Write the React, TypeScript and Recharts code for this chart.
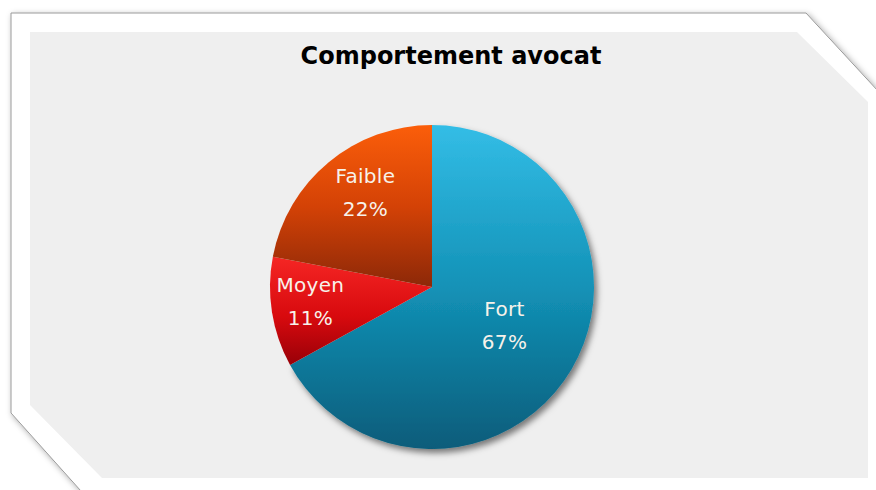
import React from "react";
import { PieChart, Pie, Cell } from "recharts";

const categories = ["Fort", "Moyen", "Faible"];
const values = [67, 11, 22];
const chartTitle = "Comportement avocat";

const data = categories.map((name, i) => ({ name, value: values[i] }));

const GRADS = ["gFort", "gMoyen", "gFaible"];
const LABEL_R = [0.52, 0.76, 0.69];
const LABEL_DA = [0, 0, -3];
const RAD = Math.PI / 180;

const renderLabel = (props: any) => {
  const { cx, cy, midAngle, outerRadius, index, name, percent } = props;
  const r = outerRadius * LABEL_R[index];
  const a = midAngle + LABEL_DA[index];
  const x = cx + r * Math.cos(-a * RAD);
  const y = cy + r * Math.sin(-a * RAD);
  return (
    <text
      x={x}
      y={y}
      textAnchor="middle"
      fill="#f7f2ea"
      fontSize={20}
      fontFamily="'DejaVu Sans', sans-serif"
      letterSpacing={0.3}
    >
      <tspan x={x} y={y - 14}>{name}</tspan>
      <tspan x={x} y={y + 19}>{Math.round(percent * 100)}%</tspan>
    </text>
  );
};

export default function App() {
  return (
    <div style={{ position: "absolute", left: 0, top: 0, width: 876, height: 490, background: "#ffffff", overflow: "hidden" }}>
      <svg width={876} height={490} style={{ position: "absolute", left: 0, top: 0 }}>
        <defs>
          <filter id="frameShadow" x="-10%" y="-10%" width="120%" height="120%">
            <feDropShadow dx={2} dy={2} stdDeviation={3} floodColor="#000" floodOpacity={0.35} />
          </filter>
          <filter id="pieShadow" x="-10%" y="-10%" width="125%" height="125%">
            <feDropShadow dx={3} dy={4} stdDeviation={3} floodColor="#000" floodOpacity={0.5} />
          </filter>
          <linearGradient id="gFort" x1="0" y1="0" x2="0" y2="1">
            <stop offset="0%" stopColor="#33bde6" />
            <stop offset="50%" stopColor="#1392b7" />
            <stop offset="100%" stopColor="#075c7a" />
          </linearGradient>
          <linearGradient id="gMoyen" x1="0" y1="0" x2="0" y2="1">
            <stop offset="0%" stopColor="#f52624" />
            <stop offset="55%" stopColor="#d80a0e" />
            <stop offset="100%" stopColor="#980008" />
          </linearGradient>
          <linearGradient id="gFaible" x1="0" y1="0" x2="0" y2="1">
            <stop offset="0%" stopColor="#fb5e0a" />
            <stop offset="50%" stopColor="#d44206" />
            <stop offset="100%" stopColor="#8c2808" />
          </linearGradient>
        </defs>
        <polygon
          points="11,13 806,13 890,104 890,510 98,510 11,413"
          fill="#ffffff"
          stroke="#9a9a9a"
          strokeWidth={1}
          filter="url(#frameShadow)"
        />
        <polygon points="30,32 797,32 868,102 868,478 102,478 30,405" fill="#efefef" />
        <text
          x={451}
          y={64}
          textAnchor="middle"
          fontSize={24}
          fontWeight="bold"
          fontFamily="'DejaVu Sans', sans-serif"
          fill="#000"
        >
          {chartTitle}
        </text>
      </svg>
      <div style={{ position: "absolute", left: 0, top: 0 }}>
        <PieChart width={876} height={490}>
          <Pie
            data={data}
            dataKey="value"
            nameKey="name"
            cx={427}
            cy={282}
            outerRadius={162}
            startAngle={90}
            endAngle={-270}
            stroke="none"
            label={renderLabel}
            labelLine={false}
            isAnimationActive={false}
          >
            {data.map((d, i) => (
              <Cell
                key={d.name}
                fill={`url(#${GRADS[i]})`}
                filter={i === 0 ? "url(#pieShadow)" : undefined}
              />
            ))}
          </Pie>
        </PieChart>
      </div>
    </div>
  );
}
